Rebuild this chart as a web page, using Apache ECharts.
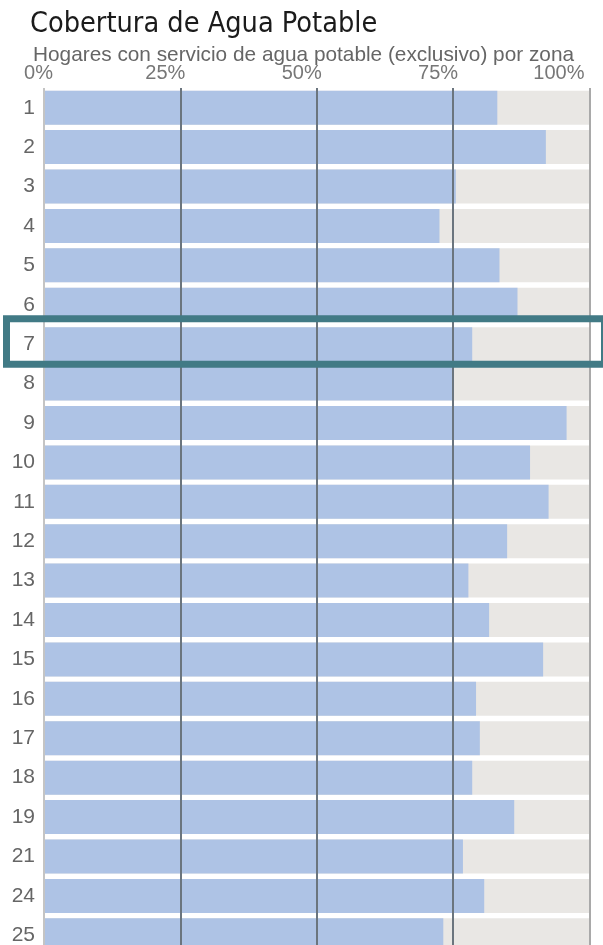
<!DOCTYPE html>
<html><head><meta charset="utf-8">
<script src="https://cdn.jsdelivr.net/npm/echarts@6/dist/echarts.min.js"></script>
<style>html,body{margin:0;padding:0;background:#fff;overflow:hidden}#c{width:603px;height:965px}</style>
</head><body><div id="c"></div>
<script>
const zones = ['1','2','3','4','5','6','7','8','9','10','11','12','13','14','15','16','17','18','19','21','24','25'];
const coverage = [83.1, 92.0, 75.5, 72.5, 83.5, 86.8, 78.5, 74.9, 95.8, 89.1, 92.5, 84.9, 77.8, 81.6, 91.5, 79.2, 79.9, 78.5, 86.2, 76.8, 80.7, 73.2];
const highlightZone = '7';
const titleText = 'Cobertura de Agua Potable';
const subtitleText = 'Hogares con servicio de agua potable (exclusivo) por zona';

const chart = echarts.init(document.getElementById('c'), null, {renderer: 'canvas'});
chart.setOption({
  animation: false,
  backgroundColor: '#ffffff',
  title: [
    {text: titleText, left: 25, top: 5,
     textStyle: {fontFamily: "'Liberation Sans Narrow','DejaVu Sans Condensed',sans-serif", fontSize: 28.6, fontWeight: 'normal', color: '#1b1b1b'}},
    {text: subtitleText, left: 28, top: 40,
     textStyle: {fontFamily: "'Liberation Sans',sans-serif", fontSize: 20.8, fontWeight: 'normal', color: '#666'}}
  ],
  grid: {left: 44, right: 13.5, top: 88, height: 867},
  xAxis: {
    type: 'value', position: 'top', min: 0, max: 100, interval: 25, z: 10,
    axisLine: {show: false}, axisTick: {show: false},
    axisLabel: {
      formatter: function (v) {
        if (v === 0) return '{a|' + v + '%}';
        if (v === 100) return '{c|' + v + '%}';
        return '{b|' + v + '%}';
      },
      fontFamily: "'Liberation Sans',sans-serif", fontSize: 20, color: '#777',
      margin: 5, align: 'right',
      rich: {
        a: {fontFamily: "'Liberation Sans',sans-serif", fontSize: 20, color: '#777', padding: [0, -9, 0, 0]},
        b: {fontFamily: "'Liberation Sans',sans-serif", fontSize: 20, color: '#777', padding: [0, -5, 0, 0]},
        c: {fontFamily: "'Liberation Sans',sans-serif", fontSize: 20, color: '#777', padding: [0, 5, 0, 0]}
      }
    },
    splitLine: {show: true, lineStyle: {color: ['#c4c4c4', '#6b757e', '#6b757e', '#6b757e', '#a9a9a9'], width: 2}}
  },
  yAxis: {
    type: 'category', data: zones, inverse: true,
    axisLine: {show: false}, axisTick: {show: false},
    axisLabel: {fontFamily: "'Liberation Sans',sans-serif", fontSize: 21, color: '#666', margin: 9}
  },
  series: [{
    type: 'bar', data: coverage, barWidth: 34,
    itemStyle: {color: '#aec3e5'},
    showBackground: true, backgroundStyle: {color: '#e9e7e4'}
  }]
});
const p = chart.convertToPixel({gridIndex: 0}, [0, highlightZone]);
chart.setOption({
  graphic: [{type: 'rect', z: 100,
    shape: {x: 6.5, y: p[1] - 25.5, width: 598, height: 45.5},
    style: {fill: 'none', stroke: '#417a85', lineWidth: 7}}]
});
</script></body></html>
